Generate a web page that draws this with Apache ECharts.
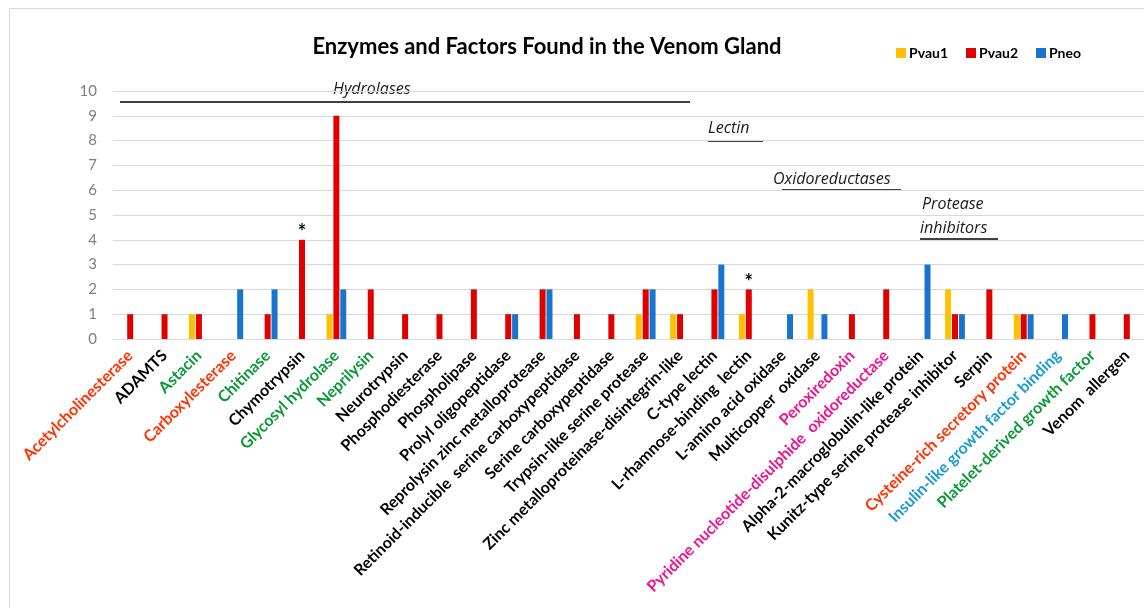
<!DOCTYPE html>
<html>
<head>
<meta charset="utf-8">
<script src="https://cdn.jsdelivr.net/npm/echarts@6/dist/echarts.min.js"></script>
<style>
  html, body { margin: 0; padding: 0; background: #fff; }
  #chart { width: 1144px; height: 608px; }
</style>
</head>
<body>
<div id="chart"></div>
<script>
// enzyme / factor names on the x axis
const categories = [
  'Acetylcholinesterase', 'ADAMTS', 'Astacin', 'Carboxylesterase', 'Chitinase',
  'Chymotrypsin', 'Glycosyl hydrolase', 'Neprilysin', 'Neurotrypsin', 'Phosphodiesterase',
  'Phospholipase', 'Prolyl oligopeptidase', 'Reprolysin zinc metalloprotease',
  'Retinoid-inducible  serine carboxypeptidase', 'Serine carboxypeptidase',
  'Trypsin-like serine protease', 'Zinc metalloproteinase-disintegrin-like',
  'C-type lectin', 'L-rhamnose-binding  lectin', 'L-amino acid oxidase',
  'Multicopper  oxidase', 'Peroxiredoxin', 'Pyridine nucleotide-disulphide  oxidoreductase',
  'Alpha-2-macroglobulin-like protein', 'Kunitz-type serine protease inhibitor', 'Serpin',
  'Cysteine-rich secretory protein', 'Insulin-like growth factor binding',
  'Platelet-derived growth factor', 'Venom  allergen'
];

const pvau1 = [0, 0, 1, 0, 0, 0, 1, 0, 0, 0, 0, 0, 0, 0, 0, 1, 1, 0, 1, 0, 2, 0, 0, 0, 2, 0, 1, 0, 0, 0];
const pvau2 = [1, 1, 1, 0, 1, 4, 9, 2, 1, 1, 2, 1, 2, 1, 1, 2, 1, 2, 2, 0, 0, 1, 2, 0, 1, 2, 1, 0, 1, 1];
const pneo  = [0, 0, 0, 2, 2, 0, 2, 0, 0, 0, 0, 1, 2, 0, 0, 2, 0, 3, 0, 1, 1, 0, 0, 3, 1, 0, 1, 1, 0, 0];

// Pvau2 bars marked with an asterisk
const starred = ['Chymotrypsin', 'L-rhamnose-binding  lectin'];

const yTicks = { min: 0, max: 10, interval: 1 };

// label colours (anything not listed is black)
const labelColour = {
  'Acetylcholinesterase': '#ff3300',
  'Carboxylesterase': '#ff3300',
  'Cysteine-rich secretory protein': '#ff3300',
  'Astacin': '#0a9a35',
  'Chitinase': '#0a9a35',
  'Glycosyl hydrolase': '#0a9a35',
  'Neprilysin': '#0a9a35',
  'Platelet-derived growth factor': '#0a9a35',
  'Peroxiredoxin': '#f0148c',
  'Pyridine nucleotide-disulphide  oxidoreductase': '#f0148c',
  'Insulin-like growth factor binding': '#1a9bd0'
};

const FONT = 'Lato, "Open Sans", sans-serif';
const NOTE_FONT = 'italic 16px "Open Sans", sans-serif';
const chart = echarts.init(document.getElementById('chart'));

function bar(name, values, colour, stars) {
  return {
    name,
    type: 'bar',
    barWidth: 6,
    barGap: '15%',
    itemStyle: { color: colour },
    data: values.map((v, i) => {
      if (stars && starred.includes(categories[i])) {
        return {
          value: v,
          label: {
            show: true, position: 'top', formatter: '*', distance: 1, offset: [0, 4],
            color: '#000', fontSize: 20, fontWeight: 'bold', fontFamily: FONT
          }
        };
      }
      return v;
    })
  };
}

// annotation text + underline
function note(text, x, y, lx1, lx2, ly) {
  return [
    {
      type: 'text', left: x, top: y,
      style: { text, fill: '#1a1a1a', font: NOTE_FONT }
    },
    {
      type: 'line',
      shape: { x1: lx1, y1: ly, x2: lx2, y2: ly },
      style: { stroke: '#000', lineWidth: 1.3 }
    }
  ];
}

chart.setOption({
  animation: false,
  backgroundColor: '#fff',
  textStyle: { fontFamily: FONT },
  title: {
    text: 'Enzymes and Factors Found in the Venom Gland',
    left: 542,
    top: 31,
    textAlign: 'center',
    textStyle: { fontSize: 22, fontWeight: 'bold', color: '#000', fontFamily: FONT }
  },
  legend: {
    left: 891,
    top: 41,
    itemWidth: 10,
    itemHeight: 10,
    itemGap: 18,
    icon: 'rect',
    textStyle: { fontSize: 14, fontWeight: 'bold', color: '#000', padding: [0, 0, 0, -2] },
    data: ['Pvau1', 'Pvau2', 'Pneo']
  },
  grid: { left: 113, right: 0, top: 91, bottom: 269 },
  xAxis: {
    type: 'category',
    data: categories,
    axisLine: { lineStyle: { color: '#d9d9d9' } },
    axisTick: { show: false },
    axisLabel: {
      interval: 0,
      rotate: 45,
      margin: 14,
      fontSize: 16,
      fontWeight: 'bold',
      fontFamily: FONT,
      color: (v) => labelColour[v] || '#000'
    }
  },
  yAxis: {
    type: 'value',
    min: yTicks.min,
    max: yTicks.max,
    interval: yTicks.interval,
    axisLine: { show: false },
    axisTick: { show: false },
    axisLabel: { color: '#7f7f7f', fontSize: 15, margin: 16 },
    splitLine: { lineStyle: { color: '#d9d9d9' } }
  },
  series: [
    bar('Pvau1', pvau1, '#ffc000'),
    bar('Pvau2', pvau2, '#e00000', true),
    bar('Pneo', pneo, '#1874cd')
  ],
  graphic: [
    {
      type: 'rect',
      shape: { x: 9.5, y: 8.5, width: 1200, height: 700 },
      style: { fill: 'none', stroke: '#d9d9d9', lineWidth: 1 },
      silent: true
    },
    ...note('Hydrolases', 333, 81, 120, 690, 102),
    ...note('Lectin', 708, 120, 708, 763, 141),
    ...note('Oxidoreductases', 773, 171, 782, 901, 190),
    {
      type: 'text', left: 922, top: 196,
      style: { text: 'Protease', fill: '#1a1a1a', font: NOTE_FONT }
    },
    ...note('inhibitors', 920, 220, 920, 998, 239)
  ]
});
</script>
</body>
</html>
